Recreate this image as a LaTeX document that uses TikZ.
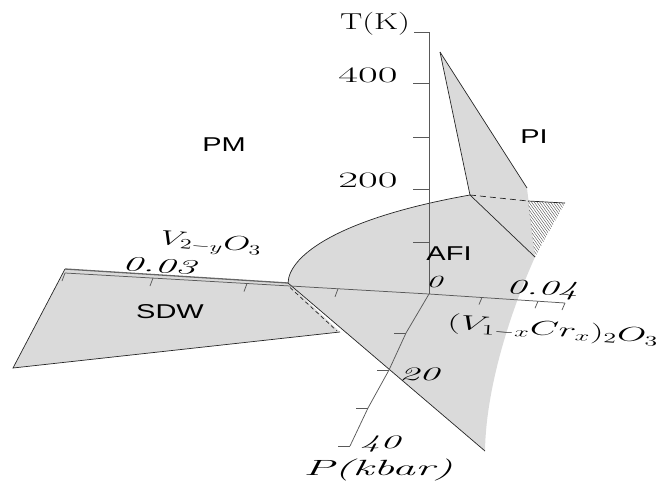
\documentclass[tikz,border=0pt]{standalone}
\usepackage{fontspec}
\newfontfamily\lsans{Liberation Sans}
\definecolor{sheetgray}{RGB}{218,218,218}
\begin{document}
\begin{tikzpicture}[x=1pt,y=-1pt,
  edge/.style={draw=black!85, line width=0.7pt},
  axis/.style={draw=black!65, line width=0.75pt},
  hatch/.style={draw=black!75, line width=0.35pt},
  phase/.style={font=\lsans\fontsize{20}{20}\selectfont, inner sep=0pt, xscale=1.45},
  lab/.style={inner sep=0pt, font=\fontsize{21}{21}\selectfont},
]
\useasboundingbox (0,0) rectangle (669,483);
% key points
\coordinate (O) at (429,294);
\coordinate (J) at (288,283);
\coordinate (Ttop) at (429,32);
\coordinate (SDWtl) at (65,269);
\coordinate (SDWbl) at (13,368);
\coordinate (SDWbr) at (340,332);
\coordinate (AFIbot) at (485,451);
\coordinate (Ptop) at (470,195);
\coordinate (Rc) at (535,257);
\coordinate (PItop) at (440,52);
\coordinate (PIr) at (527,188);
\coordinate (Hd) at (528,201);
\coordinate (Hr) at (565,203);
\coordinate (Vend) at (65,273);
\coordinate (Crend) at (565,303);
\coordinate (Pend) at (350,446);
% sheets
\fill[sheetgray] (SDWtl) -- (J) -- (SDWbr) -- (SDWbl) -- cycle;
\fill[sheetgray] (J) .. controls (289,255) and (340,218) .. (Ptop) -- (Rc) .. controls (512,308) and (486,385) .. (AFIbot) -- cycle;
\fill[sheetgray] (PItop) -- (PIr) -- (Rc) -- (Ptop) -- cycle;
% hatched wedge
\begin{scope}
\clip (Hd) -- (Hr) -- (Rc) -- cycle;
\foreach \i in {0,...,28} \draw[hatch] (486+2.7*\i,195) -- ++(50,70);
\end{scope}
% outlines
\draw[edge] (SDWtl) -- (SDWbl) -- (SDWbr);
\draw[draw=black!60, line width=1.3pt] (SDWtl) -- (J);
\draw[edge] (J) -- (AFIbot);
\draw[edge, dash pattern=on 4pt off 3pt] (290,287.5) -- (337,331);
\draw[edge] (J) .. controls (289,255) and (340,218) .. (Ptop);
\draw[edge] (Ptop) -- (Rc);
\draw[edge] (PItop) -- (Ptop);
\draw[edge] (PItop) -- (PIr);
\draw[edge, dash pattern=on 6pt off 4pt] (Ptop) -- (Hd);
\draw[edge] (Hd) -- (Hr);
% T axis
\draw[axis] (O) -- (Ttop) -- ++(-15,0);
\foreach \y in {83,137,189,242} \draw[axis] (413,\y) -- (429,\y);
% V2-yO3 axis
\draw[axis] (Vend) -- (O);
\foreach \x/\y in {65/273,153/278,247/283.5,338/288.8} \draw[axis] (\x,\y) -- ++(-3,8);
% Cr axis
\draw[axis] (O) -- (Crend);
\foreach \x/\y in {482/297.5,538/301.2,565/303} \draw[axis] (\x,\y) -- ++(-3,7);
% P axis
\draw[axis] (O) -- (406,333) -- (389,370) -- (368,408) -- (Pend);
\foreach \x/\y in {406/333,389/370,368/408,350/446} \draw[axis] (\x,\y) -- ++(-12,0);
% phase labels
\node[phase] (pm) at (224,145) {PM};
\node[phase] (pi) at (534,137) {PI};
\node[phase] (afi) at (449,254) {AFI};
\node[phase] (sdw) at (170,312) {SDW};
% axis labels
\node[lab, font=\fontsize{23}{23}\selectfont, xscale=1.45] (tk) at (375,24) {T(K)};
\node[lab, font=\fontsize{22}{22}\selectfont, xscale=1.95] (t400) at (368,75) {400};
\node[lab, font=\fontsize{22}{22}\selectfont, xscale=1.95] (t200) at (368,180) {200};
\node[lab, font=\fontsize{17}{17}\selectfont, xscale=1.9] (zero) at (435,282) {\textit{0}};
\node[lab, rotate=-2.5, xscale=1.9] (p04) at (542,290) {\textit{0.04}};
\node[lab, rotate=-3, xscale=1.95] (p03) at (160,266) {\textit{0.03}};
\node[lab, font=\fontsize{19}{19}\selectfont, xscale=2.1] (p20) at (420,374) {\textit{20}};
\node[lab, font=\fontsize{19}{19}\selectfont, xscale=2.1] (p40) at (381,444) {\textit{40}};
\node[lab, font=\fontsize{22}{22}\selectfont, xscale=2.1] (pk) at (378,470) {\textit{P(kbar)}};
\node[lab, font=\fontsize{20}{20}\selectfont, rotate=-4, xscale=1.8] (cr) at (553,331) {$(V_{1-x}Cr_x)_2O_3$};
\node[lab, font=\fontsize{20}{20}\selectfont, rotate=-4.5, xscale=1.66] (v2) at (211,244) {$V_{2-y}O_3$};
\end{tikzpicture}
\end{document}
